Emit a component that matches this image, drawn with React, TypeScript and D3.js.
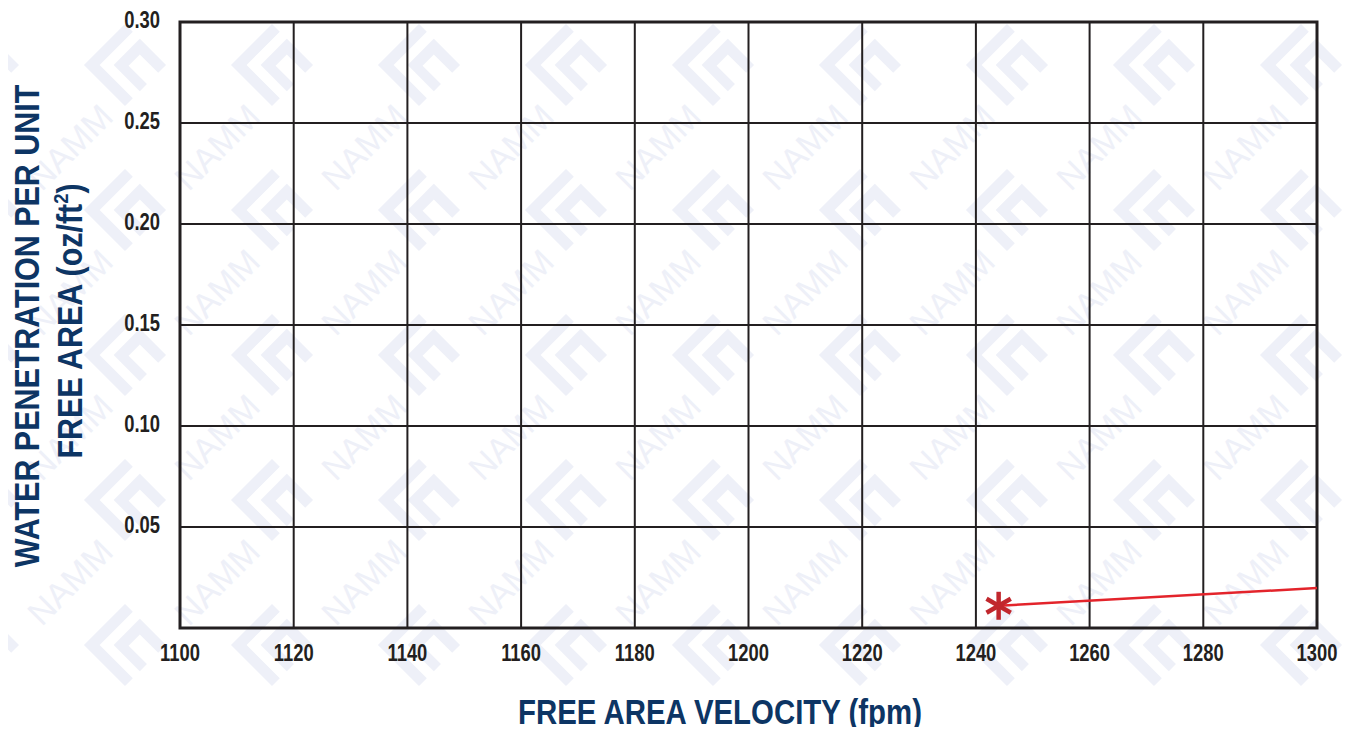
import { useEffect, useRef } from 'react';
import * as d3 from 'd3';

// values
const xTicks = [1100, 1120, 1140, 1160, 1180, 1200, 1220, 1240, 1260, 1280, 1300];
const yTicks = [0.05, 0.1, 0.15, 0.2, 0.25, 0.3];
const trendX = [1244, 1300];
const trendY = [0.011, 0.0198];
const markerX = [1244];
const markerY = [0.011];

const width = 1352;
const height = 735;
const font = '"Liberation Sans", Arial, sans-serif';

const App = () => {
  const svgRef = useRef<SVGSVGElement | null>(null);

  useEffect(() => {
    if (!svgRef.current) return;
    const svg = d3.select(svgRef.current);
    svg.selectAll('*').remove();

    const margin = { top: 22, right: 35, bottom: 107, left: 180 };
    const innerWidth = width - margin.left - margin.right;
    const innerHeight = height - margin.top - margin.bottom;

    const xScale = d3.scaleLinear().domain([1100, 1300]).range([0, innerWidth]);
    const yScale = d3.scaleLinear().domain([0, 0.3]).range([innerHeight, 0]);

    svg.append('rect').attr('width', width).attr('height', height).attr('fill', '#fff');

    // faint NAMM watermark, square tiling
    const wm = svg.append('g').attr('fill', '#eef0f8');
    const dx = 147;
    const dy = 145;
    for (let row = -1; row < 6; row++) {
      for (let col = -2; col < 9; col++) {
        const cx = 272 + col * dx;
        const cy = 65 + row * dy;
        const cell = wm.append('g').attr('transform', `translate(${cx},${cy}) rotate(45)`);
        cell.append('path').attr('d', 'M-29,-29 H-18 V18 H29 V29 H-29 Z');
        cell.append('path').attr('d', 'M29,-29 H-8 V8 H29 V-2 H3 V-18 H29 Z');
        const tx = cx - 55;
        const ty = cy + 82;
        if (tx > 45 && tx < width - 45 && ty > 45 && ty < height - 45) {
          wm.append('text')
            .attr('transform', `translate(${tx},${ty}) rotate(-45)`)
            .attr('text-anchor', 'middle')
            .attr('dy', '0.35em')
            .attr('font-family', font)
            .attr('font-size', 34)
            .text('NAMM');
        }
      }
    }

    const g = svg.append('g').attr('transform', `translate(${margin.left},${margin.top})`);

    // grid
    g.append('g')
      .selectAll('line')
      .data(xTicks)
      .enter()
      .append('line')
      .attr('x1', d => xScale(d))
      .attr('x2', d => xScale(d))
      .attr('y1', 0)
      .attr('y2', innerHeight)
      .attr('stroke', '#231f20')
      .attr('stroke-width', 2);

    g.append('g')
      .selectAll('line')
      .data(yTicks)
      .enter()
      .append('line')
      .attr('x1', 0)
      .attr('x2', innerWidth)
      .attr('y1', d => yScale(d))
      .attr('y2', d => yScale(d))
      .attr('stroke', '#231f20')
      .attr('stroke-width', 2);

    g.append('rect')
      .attr('width', innerWidth)
      .attr('height', innerHeight)
      .attr('fill', 'none')
      .attr('stroke', '#231f20')
      .attr('stroke-width', 3);

    // tick labels (condensed via scaleX)
    g.append('g')
      .selectAll('text')
      .data(xTicks)
      .enter()
      .append('text')
      .attr('transform', d => `translate(${xScale(d)},${innerHeight + 25}) scale(0.8,1)`)
      .attr('dy', '0.35em')
      .attr('text-anchor', 'middle')
      .attr('font-family', font)
      .attr('font-weight', 'bold')
      .attr('font-size', 23)
      .attr('fill', '#231f20')
      .text(d => d);

    g.append('g')
      .selectAll('text')
      .data(yTicks)
      .enter()
      .append('text')
      .attr('transform', d => `translate(-20,${yScale(d) - 2}) scale(0.8,1)`)
      .attr('dy', '0.35em')
      .attr('text-anchor', 'end')
      .attr('font-family', font)
      .attr('font-weight', 'bold')
      .attr('font-size', 23)
      .attr('fill', '#231f20')
      .text(d => d.toFixed(2));

    // trend line + marker
    const line = d3.line<number>()
      .x((d, i) => xScale(trendX[i]))
      .y(d => yScale(d));

    g.append('path')
      .datum(trendY)
      .attr('fill', 'none')
      .attr('stroke', '#e3242b')
      .attr('stroke-width', 2.5)
      .attr('d', line);

    const star = g.append('g').attr('stroke', '#c1272d').attr('stroke-width', 4.5);
    markerX.forEach((mx, i) => {
      const px = xScale(mx);
      const py = yScale(markerY[i]);
      [90, 30, -30].forEach(a => {
        const r = 14;
        const rad = (a * Math.PI) / 180;
        star.append('line')
          .attr('x1', px - r * Math.cos(rad))
          .attr('y1', py - r * Math.sin(rad))
          .attr('x2', px + r * Math.cos(rad))
          .attr('y2', py + r * Math.sin(rad));
      });
    });

    // axis titles
    svg.append('text')
      .attr('transform', 'translate(720,724) scale(0.84,1)')
      .attr('text-anchor', 'middle')
      .attr('font-family', font)
      .attr('font-weight', 'bold')
      .attr('font-size', 35)
      .attr('fill', '#0d3564')
      .text('FREE AREA VELOCITY (fpm)');

    const yTitle = svg.append('g')
      .attr('font-family', font)
      .attr('font-weight', 'bold')
      .attr('font-size', 35)
      .attr('fill', '#0d3564')
      .attr('text-anchor', 'middle');

    yTitle.append('text')
      .attr('transform', 'translate(39,326) rotate(-90) scale(0.87,1)')
      .text('WATER PENETRATION PER UNIT');

    const t2 = yTitle.append('text')
      .attr('transform', 'translate(82,321) rotate(-90) scale(0.87,1)');
    t2.append('tspan').text('FREE AREA (oz/ft');
    t2.append('tspan').attr('font-size', 21).attr('dy', -14).text('2');
    t2.append('tspan').attr('dy', 14).text(')');
  }, []);

  return <svg ref={svgRef} width={width} height={height} style={{ display: 'block', margin: -8 }} />;
};

export default App;
